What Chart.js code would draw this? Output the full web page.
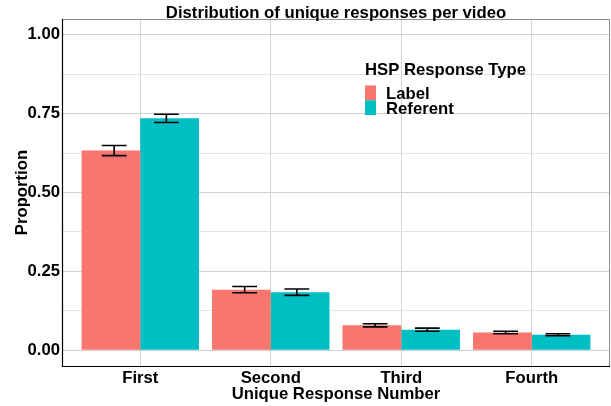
<!DOCTYPE html>
<html>
<head>
<meta charset="utf-8">
<script src="https://cdn.jsdelivr.net/npm/chart.js@4.4.1/dist/chart.umd.min.js"></script>
<style>
  html, body { margin: 0; padding: 0; background: #ffffff; }
  #wrap { width: 611px; height: 406px; position: relative; }
</style>
</head>
<body>
<div id="wrap"><canvas id="chart" width="611" height="406"></canvas></div>
<script>
// Unique response positions (x axis categories)
const categories = ['First', 'Second', 'Third', 'Fourth'];

// Mean proportion of responses per video, by response type
const labelValues    = [0.633, 0.192, 0.079, 0.056];
const referentValues = [0.735, 0.184, 0.065, 0.049];

// Standard errors shown as error bars
const labelErrors    = [0.016, 0.010, 0.005, 0.004];
const referentErrors = [0.013, 0.010, 0.005, 0.003];

// Y axis ticks (major carry labels, minor only draw a grid line)
const yTickValues = [0, 0.125, 0.25, 0.375, 0.5, 0.625, 0.75, 0.875, 1.0];
const yTickLabels = ['0.00', '', '0.25', '', '0.50', '', '0.75', '', '1.00'];

const seriesNames = ['Label', 'Referent'];
const seriesColors = ['#F8766D', '#00BFC4'];
const legendTitle = 'HSP Response Type';
const chartTitle = 'Distribution of unique responses per video';

const FONT = "'Liberation Sans', Arial, sans-serif";
const FS = 16.7;

const toPoints = vals => vals.map((v, i) => ({ x: i + 1, y: v }));

// Error bars, dodged slightly inward from each bar centre
const errorBarPlugin = {
  id: 'errorBars',
  afterDatasetsDraw(chart) {
    const { ctx, scales: { x, y } } = chart;
    const errs = [labelErrors, referentErrors];
    const vals = [labelValues, referentValues];
    const dodge = [-0.2, 0.2];
    const half = 0.095;
    ctx.save();
    ctx.strokeStyle = '#000000';
    ctx.lineWidth = 1.6;
    for (let s = 0; s < 2; s++) {
      vals[s].forEach((v, i) => {
        const cx = i + 1 + dodge[s];
        const xl = x.getPixelForValue(cx - half);
        const xr = x.getPixelForValue(cx + half);
        const xm = x.getPixelForValue(cx);
        const yt = y.getPixelForValue(v + errs[s][i]);
        const yb = y.getPixelForValue(v - errs[s][i]);
        ctx.beginPath();
        ctx.moveTo(xl, yt); ctx.lineTo(xr, yt);
        ctx.moveTo(xm, yt); ctx.lineTo(xm, yb);
        ctx.moveTo(xl, yb); ctx.lineTo(xr, yb);
        ctx.stroke();
      });
    }
    ctx.restore();
  }
};

// Panel frame, title and legend
const decorPlugin = {
  id: 'decor',
  afterDraw(chart) {
    const { ctx, chartArea: a } = chart;
    ctx.save();
    // grey frame on top and right
    ctx.strokeStyle = '#8c8c8c';
    ctx.lineWidth = 1;
    ctx.beginPath();
    ctx.moveTo(a.left, a.top + 0.5);
    ctx.lineTo(a.right - 0.5, a.top + 0.5);
    ctx.lineTo(a.right - 0.5, a.bottom);
    ctx.stroke();
    // black axis lines on left and bottom
    ctx.strokeStyle = '#000000';
    ctx.lineWidth = 1.2;
    ctx.beginPath();
    ctx.moveTo(a.left + 0.5, a.top);
    ctx.lineTo(a.left + 0.5, a.bottom + 0.5);
    ctx.lineTo(a.right, a.bottom + 0.5);
    ctx.stroke();

    // title
    ctx.fillStyle = '#000000';
    ctx.font = 'bold ' + FS + 'px ' + FONT;
    ctx.textAlign = 'center';
    ctx.textBaseline = 'alphabetic';
    ctx.fillText(chartTitle, (a.left + a.right) / 2, 18);

    // legend
    ctx.textAlign = 'left';
    ctx.fillText(legendTitle, 365, 75);
    seriesNames.forEach((name, i) => {
      const top = 85.5 + i * 14.8;
      ctx.fillStyle = seriesColors[i];
      ctx.fillRect(365, top, 11, 14.8);
      ctx.fillStyle = '#000000';
      ctx.fillText(name, 386, 98.5 + i * 15.6);
    });
    ctx.restore();
  }
};

new Chart(document.getElementById('chart'), {
  type: 'bar',
  data: {
    datasets: [
      { label: seriesNames[0], data: toPoints(labelValues), backgroundColor: seriesColors[0], borderWidth: 0 },
      { label: seriesNames[1], data: toPoints(referentValues), backgroundColor: seriesColors[1], borderWidth: 0 }
    ]
  },
  options: {
    responsive: false,
    animation: false,
    devicePixelRatio: 1,
    layout: { padding: { left: 0, right: 1, top: 19, bottom: 0 } },
    datasets: { bar: { categoryPercentage: 0.9, barPercentage: 1.0 } },
    plugins: { legend: { display: false }, title: { display: false }, tooltip: { enabled: false } },
    scales: {
      x: {
        type: 'linear',
        min: 0.4,
        max: 4.6,
        offset: false,
        afterBuildTicks(scale) { scale.ticks = categories.map((_, i) => ({ value: i + 1 })); },
        afterFit(scale) { scale.height = 40; },
        grid: { color: '#d4d4d4', lineWidth: 1, drawTicks: false, offset: false },
        border: { display: false },
        ticks: {
          padding: 2,
          color: '#000000',
          font: { family: FONT, size: FS, weight: 'bold' },
          callback: v => categories[v - 1] ?? ''
        },
        title: {
          display: true,
          text: 'Unique Response Number',
          color: '#000000',
          font: { family: FONT, size: FS, weight: 'bold' },
          padding: { top: 0, bottom: 2 }
        }
      },
      y: {
        min: -0.05,
        max: 1.05,
        afterBuildTicks(scale) { scale.ticks = yTickValues.map(v => ({ value: v })); },
        afterFit(scale) { scale.width = 62; },
        grid: {
          drawTicks: false,
          color: ctx => (yTickLabels[yTickValues.indexOf(ctx.tick && ctx.tick.value)] ? '#d0d0d0' : '#e4e4e4'),
          lineWidth: 1
        },
        border: { display: false },
        ticks: {
          padding: 2,
          color: '#000000',
          font: { family: FONT, size: FS, weight: 'bold' },
          callback: (v) => yTickLabels[yTickValues.indexOf(v)] ?? ''
        },
        title: {
          display: true,
          text: 'Proportion',
          color: '#000000',
          font: { family: FONT, size: FS, weight: 'bold' },
          padding: { top: 12, bottom: 0 }
        }
      }
    }
  },
  plugins: [errorBarPlugin, decorPlugin]
});
</script>
</body>
</html>
